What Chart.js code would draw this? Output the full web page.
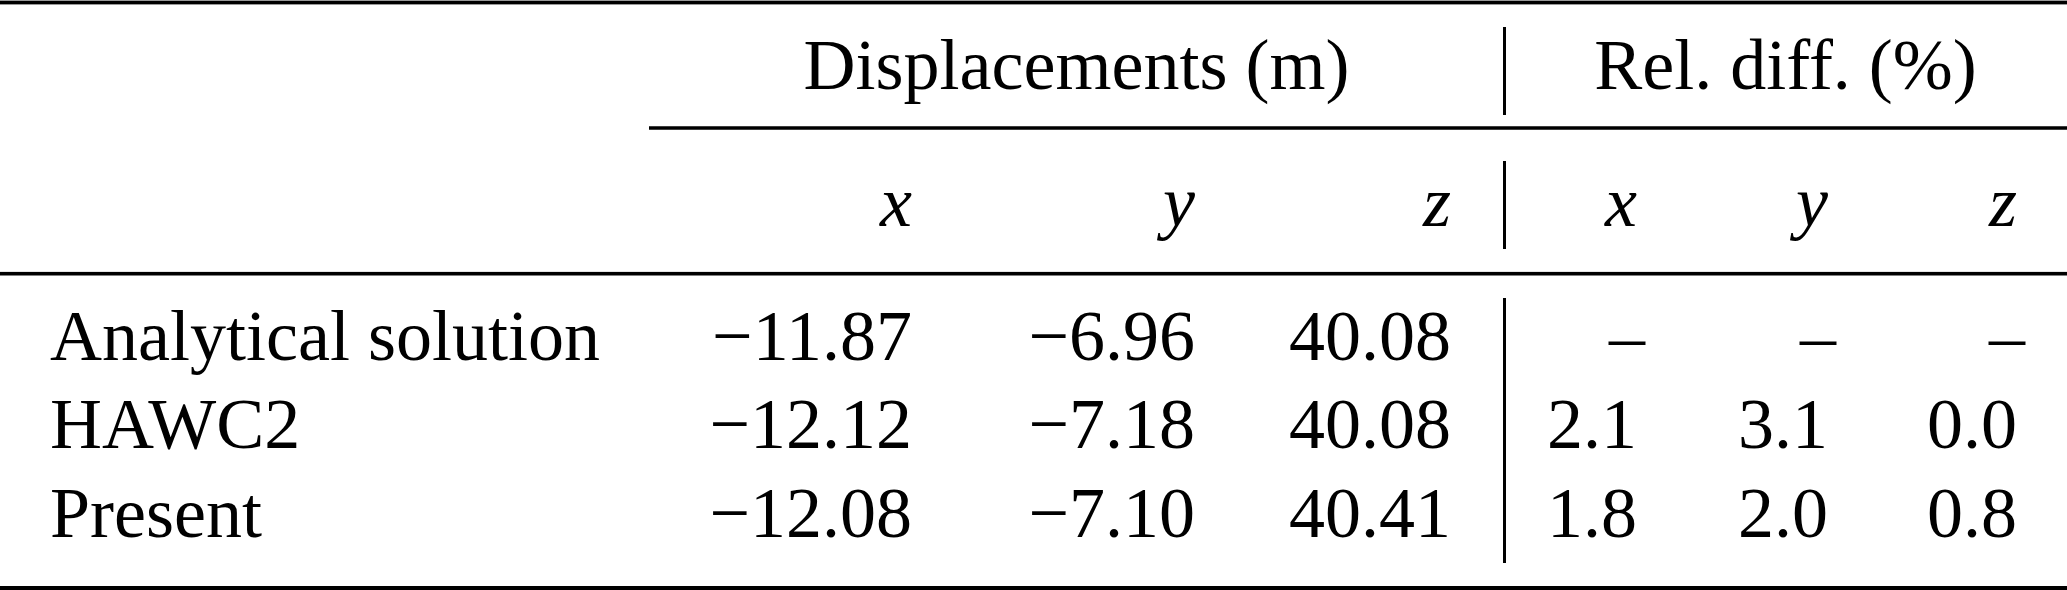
<!DOCTYPE html>
<html>
<head>
<meta charset="utf-8">
<script src="https://cdn.jsdelivr.net/npm/chart.js@4.4.1/dist/chart.umd.min.js"></script>
<style>
  html, body { margin: 0; padding: 0; background: #ffffff; }
  #wrap { width: 2067px; height: 590px; }
</style>
</head>
<body>
<div id="wrap"><canvas id="c" width="2067" height="590"></canvas></div>
<script>
// ---- data ----
const groupHeaders = ["Displacements (m)", "Rel. diff. (%)"];
const columnHeaders = ["x", "y", "z", "x", "y", "z"];
const rowLabels = ["Analytical solution", "HAWC2", "Present"];
const dispX = ["\u221211.87", "\u221212.12", "\u221212.08"];
const dispY = ["\u22126.96", "\u22127.18", "\u22127.10"];
const dispZ = ["40.08", "40.08", "40.41"];
const relX = ["\u2013", "2.1", "1.8"];
const relY = ["\u2013", "3.1", "2.0"];
const relZ = ["\u2013", "0.0", "0.8"];

// ---- layout (in scale units) ----
const W = 2067, H = 590;
const colRight = [912, 1195, 1451, 1637, 1828, 2017];
const labelLeft = 50;
const rowBase = [360, 448, 537];
const headBase = 226;
const groupBase = 89;
const groupSpan = [[649, 1504], [1504, 2067]];
const sepX = 1504.5;
const FONT = "72px 'Liberation Serif', 'Times New Roman', serif";
const IFONT = "italic 72px 'Liberation Serif', 'Times New Roman', serif";

const tablePlugin = {
  id: 'tablePlugin',
  afterDraw(chart) {
    const ctx = chart.ctx;
    const sx = chart.scales.x, sy = chart.scales.y;
    const px = v => sx.getPixelForValue(v);
    const py = v => sy.getPixelForValue(v);
    ctx.save();
    ctx.fillStyle = '#000';
    // rules
    const hline = (x0, x1, y, t) => ctx.fillRect(px(x0), py(y) - t / 2, px(x1) - px(x0), t);
    hline(0, W, 2.5, 3.8);
    hline(groupSpan[0][0], W, 128, 3.5);
    hline(0, W, 273.7, 3.6);
    hline(0, W, 588, 4);
    // vertical separators
    const vline = (x, y0, y1) => ctx.fillRect(px(x) - 1.5, py(y0), 3, py(y1) - py(y0));
    vline(sepX, 27, 115);
    vline(sepX, 161, 249);
    vline(sepX, 298, 563);
    // text
    ctx.textBaseline = 'alphabetic';
    ctx.font = FONT;
    ctx.textAlign = 'center';
    groupHeaders.forEach((g, i) => {
      const c = (groupSpan[i][0] + groupSpan[i][1]) / 2;
      ctx.fillText(g, px(c), py(groupBase));
    });
    ctx.font = IFONT;
    ctx.textAlign = 'right';
    columnHeaders.forEach((h, i) => ctx.fillText(h, px(colRight[i]), py(headBase)));
    ctx.font = FONT;
    ctx.textAlign = 'left';
    rowLabels.forEach((r, i) => ctx.fillText(r, px(labelLeft), py(rowBase[i])));
    ctx.textAlign = 'right';
    const cols = [dispX, dispY, dispZ, relX, relY, relZ];
    cols.forEach((col, ci) => {
      col.forEach((v, ri) => {
        let x = colRight[ci];
        if (v === "\u2013") x += 8;
        ctx.fillText(v, px(x), py(rowBase[ri]));
      });
    });
    ctx.restore();
  }
};

new Chart(document.getElementById('c'), {
  type: 'scatter',
  data: { datasets: [{ data: [], pointRadius: 0 }] },
  options: {
    responsive: false,
    animation: false,
    devicePixelRatio: 1,
    layout: { padding: 0 },
    plugins: { legend: { display: false }, tooltip: { enabled: false } },
    scales: {
      x: { type: 'linear', min: 0, max: W, display: false },
      y: { type: 'linear', min: 0, max: H, reverse: true, display: false }
    }
  },
  plugins: [tablePlugin]
});
</script>
</body>
</html>
